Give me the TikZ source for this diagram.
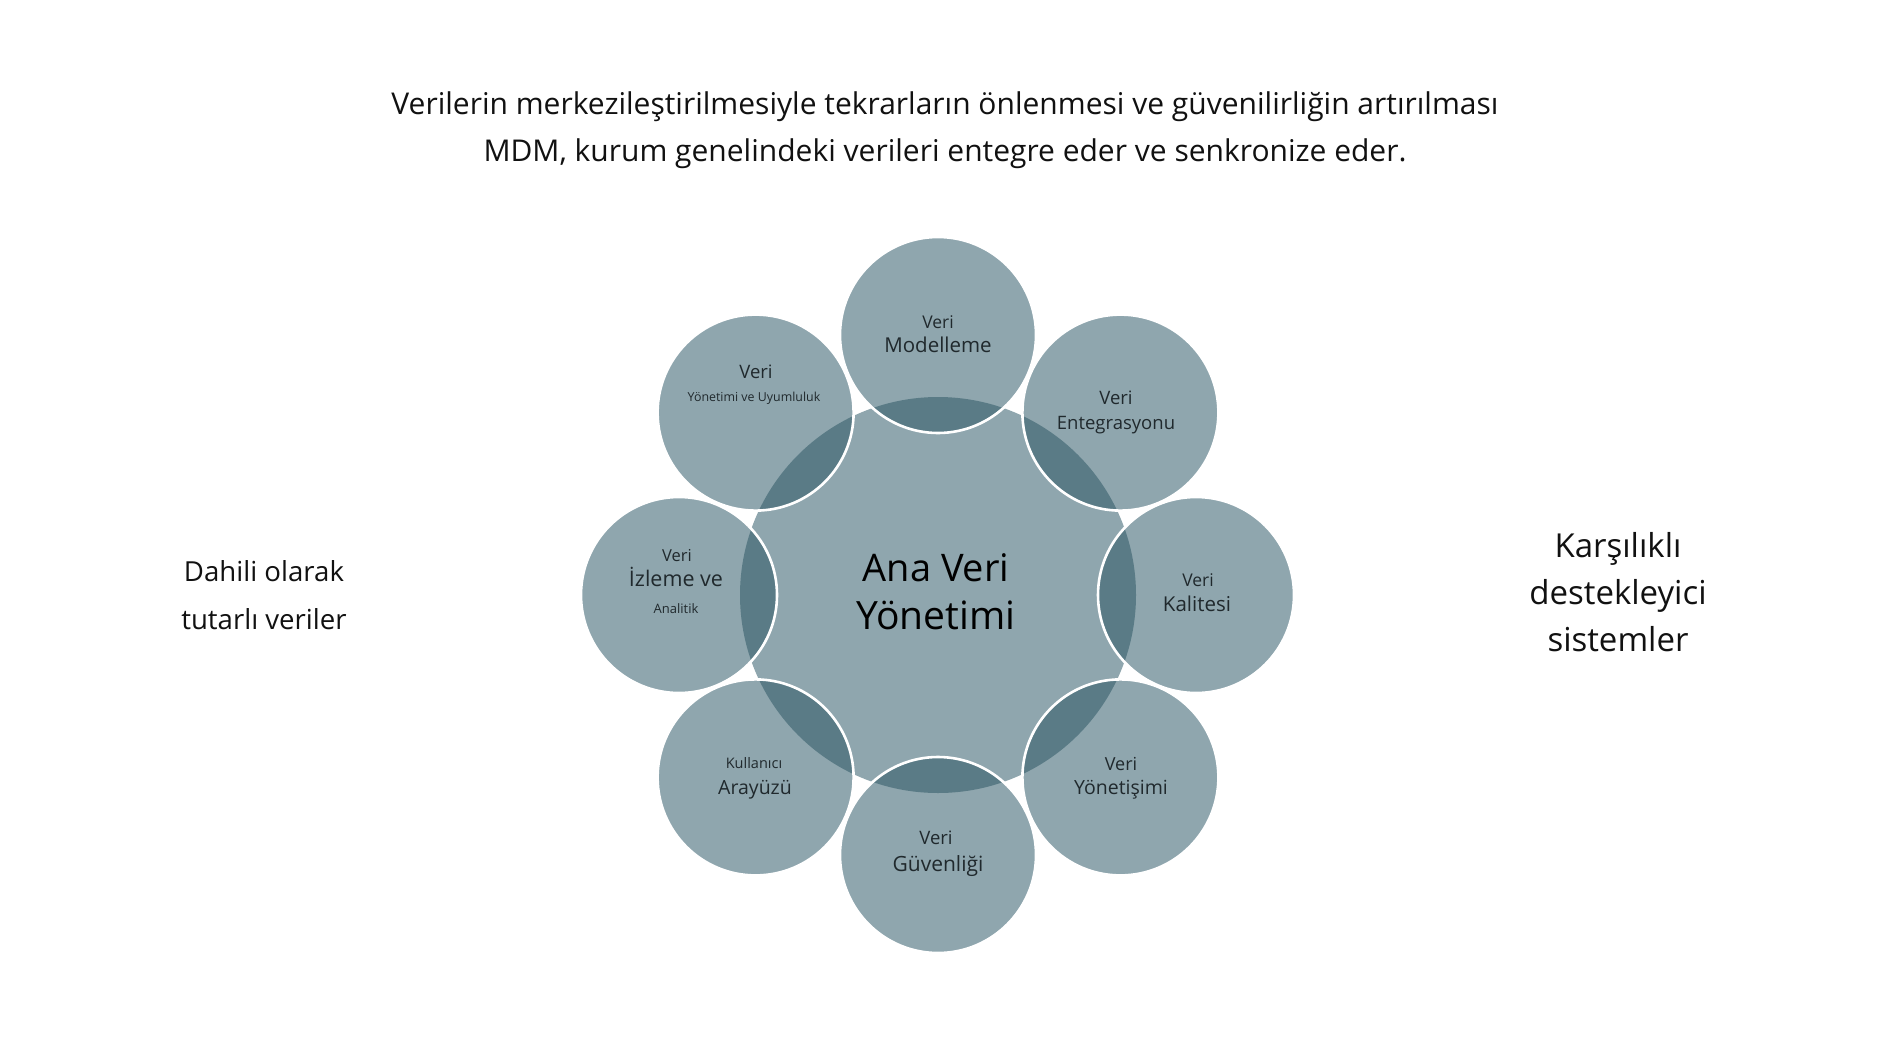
\documentclass[tikz,border=0pt]{standalone}
\usepackage{fontspec}
\setmainfont{Open Sans}
\usetikzlibrary{calc}
\definecolor{discfill}{HTML}{8FA6AE}
\definecolor{lensfill}{HTML}{5A7B86}
\definecolor{lbltext}{HTML}{20292D}
\definecolor{maintext}{HTML}{111111}
\tikzset{
  disc/.style={circle, fill=discfill, draw=none, inner sep=0pt, minimum size=#1},
  txt/.style={inner sep=0pt, text height=0.72em, text depth=0pt, anchor=center, text=maintext},
  lbl/.style={txt, text=lbltext, font=\fontsize{#1}{#1}\selectfont},
  ring/.style={draw=white, line width=2.6pt}
}
\begin{document}
\begin{tikzpicture}[x=1pt,y=-1pt]
\useasboundingbox (0,0) rectangle (1884,1060);
\fill[white] (0,0) rectangle (1884,1060);

% central disc
\node[disc=396pt] (C) at (938,595) {};
% satellites
\node[disc=196pt] (s1) at (938,335) {};
\node[disc=196pt] (s2) at (1120.4,412.6) {};
\node[disc=196pt] (s3) at (1196,595) {};
\node[disc=196pt] (s4) at (1120.4,777.4) {};
\node[disc=196pt] (s5) at (938,855) {};
\node[disc=196pt] (s6) at (755.6,777.4) {};
\node[disc=196pt] (s7) at (679,595) {};
\node[disc=196pt] (s8) at (755.6,412.6) {};

% overlap lenses
\begin{scope}
  \clip (C.center) circle (198);
  \foreach \s in {s1,s2,s3,s4,s5,s6,s7,s8}
    \fill[lensfill] (\s.center) circle (98);
\end{scope}
% white rims of satellites
\foreach \s in {s1,s2,s3,s4,s5,s6,s7,s8}
  \draw[ring] (\s.center) circle (98);

% titles
\node[txt, font=\fontsize{30}{36}\selectfont] (t1) at (945,111) {Verilerin merkezileştirilmesiyle tekrarların önlenmesi ve güvenilirliğin artırılması};
\node[txt, font=\fontsize{30}{36}\selectfont] (t2) at (945,158) {MDM, kurum genelindeki verileri entegre eder ve senkronize eder.};

% side texts
\node[txt, font=\fontsize{27.6}{34}\selectfont] (l1) at (264,578) {Dahili olarak};
\node[txt, font=\fontsize{27.6}{34}\selectfont] (l2) at (264,626) {tutarlı veriler};
\node[txt, font=\fontsize{33}{38}\selectfont] (r1) at (1618,554) {Karşılıklı};
\node[txt, font=\fontsize{33}{38}\selectfont] (r2) at (1618,601) {destekleyici};
\node[txt, font=\fontsize{33}{38}\selectfont] (r3) at (1618,648) {sistemler};

% centre text
\node[txt, text=black, font=\fontsize{38}{44}\selectfont] (c1) at (936,578) {Ana Veri};
\node[txt, text=black, font=\fontsize{39}{44}\selectfont] (c2) at (936,626) {Yönetimi};

% satellite labels
\node[lbl=17.5] (a1) at (938,325) {Veri};
\node[lbl=20.5] (a2) at (938,349) {Modelleme};

\node[lbl=18.5] (b1) at (1116,401) {Veri};
\node[lbl=18.5] (b2) at (1116,426) {Entegrasyonu};

\node[lbl=17.5] (k1) at (1198,583) {Veri};
\node[lbl=20.5] (k2) at (1197,608) {Kalitesi};

\node[lbl=18] (y1) at (1121,767) {Veri};
\node[lbl=19.5] (y2) at (1121,791) {Yönetişimi};

\node[lbl=18.5] (g1) at (936,841) {Veri};
\node[lbl=21] (g2) at (938,868) {Güvenliği};

\node[lbl=14.5] (u1) at (754,765) {Kullanıcı};
\node[lbl=19.5] (u2) at (755,791) {Arayüzü};

\node[lbl=16.5] (i1) at (677,558) {Veri};
\node[lbl=21.5] (i2) at (676,583) {İzleme ve};
\node[lbl=13] (i3) at (676,610) {Analitik};

\node[lbl=18.5] (v1) at (756,375) {Veri};
\node[lbl=12.4] (v2) at (754,398) {Yönetimi ve Uyumluluk};
\end{tikzpicture}
\end{document}
